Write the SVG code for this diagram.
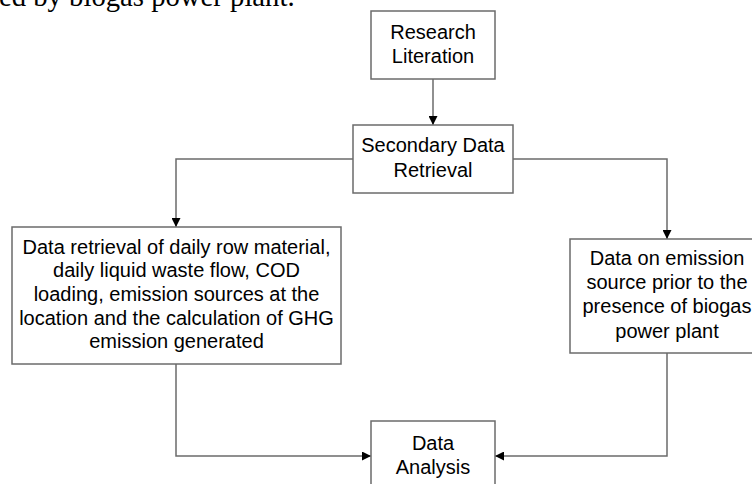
<svg xmlns="http://www.w3.org/2000/svg" width="752" height="484" viewBox="0 0 752 484">
<style>
.box{fill:#fff;stroke:#6b6b6b;stroke-width:1.5}
.t{font-family:"Liberation Sans",Arial,sans-serif;font-size:20px;fill:#000;text-anchor:middle}
.c{fill:none;stroke:#6b6b6b;stroke-width:1.5}
.cap{font-family:"Liberation Serif","Times New Roman",serif;font-size:28.7px;fill:#000}
</style>
<defs>
<marker id="ah" viewBox="0 0 10 10" refX="10" refY="5" markerWidth="9" markerHeight="9" markerUnits="userSpaceOnUse" orient="auto">
<path d="M0,0 L10,5 L0,10 z" fill="#000"/>
</marker>
</defs>
<rect width="752" height="484" fill="#fff"/>
<text class="cap" x="-1" y="6">ed by biogas power plant.</text>
<g id="connectors">
<line class="c" x1="433" y1="79" x2="433" y2="125" marker-end="url(#ah)"/>
<polyline class="c" points="353,159 176,159 176,227" marker-end="url(#ah)"/>
<polyline class="c" points="513,159 667,159 667,239" marker-end="url(#ah)"/>
<polyline class="c" points="176,364 176,456 371,456" marker-end="url(#ah)"/>
<polyline class="c" points="667,353 667,456 495,456" marker-end="url(#ah)"/>
</g>
<g id="research">
<rect class="box" x="371" y="11" width="124" height="68"/>
<text class="t" x="433" y="39">Research</text>
<text class="t" x="433" y="63">Literation</text>
</g>
<g id="secondary">
<rect class="box" x="353" y="125" width="160" height="68"/>
<text class="t" x="433" y="152">Secondary Data</text>
<text class="t" x="433" y="176.5">Retrieval</text>
</g>
<g id="retrieval">
<rect class="box" x="12" y="227" width="329" height="137"/>
<text class="t" x="176.5" y="253.5">Data retrieval of daily row material,</text>
<text class="t" x="176.5" y="277.2">daily liquid waste flow, COD</text>
<text class="t" x="176.5" y="300.9">loading, emission sources at the</text>
<text class="t" x="176.5" y="324.6">location and the calculation of GHG</text>
<text class="t" x="176.5" y="348.3">emission generated</text>
</g>
<g id="emission">
<rect class="box" x="570" y="239" width="194" height="114"/>
<text class="t" x="667" y="265">Data on emission</text>
<text class="t" x="667" y="289.2">source prior to the</text>
<text class="t" x="667" y="313.4">presence of biogas</text>
<text class="t" x="667" y="337.6">power plant</text>
</g>
<g id="analysis">
<rect class="box" x="371" y="421" width="124" height="72"/>
<text class="t" x="433" y="450">Data</text>
<text class="t" x="433" y="473.5">Analysis</text>
</g>
</svg>
